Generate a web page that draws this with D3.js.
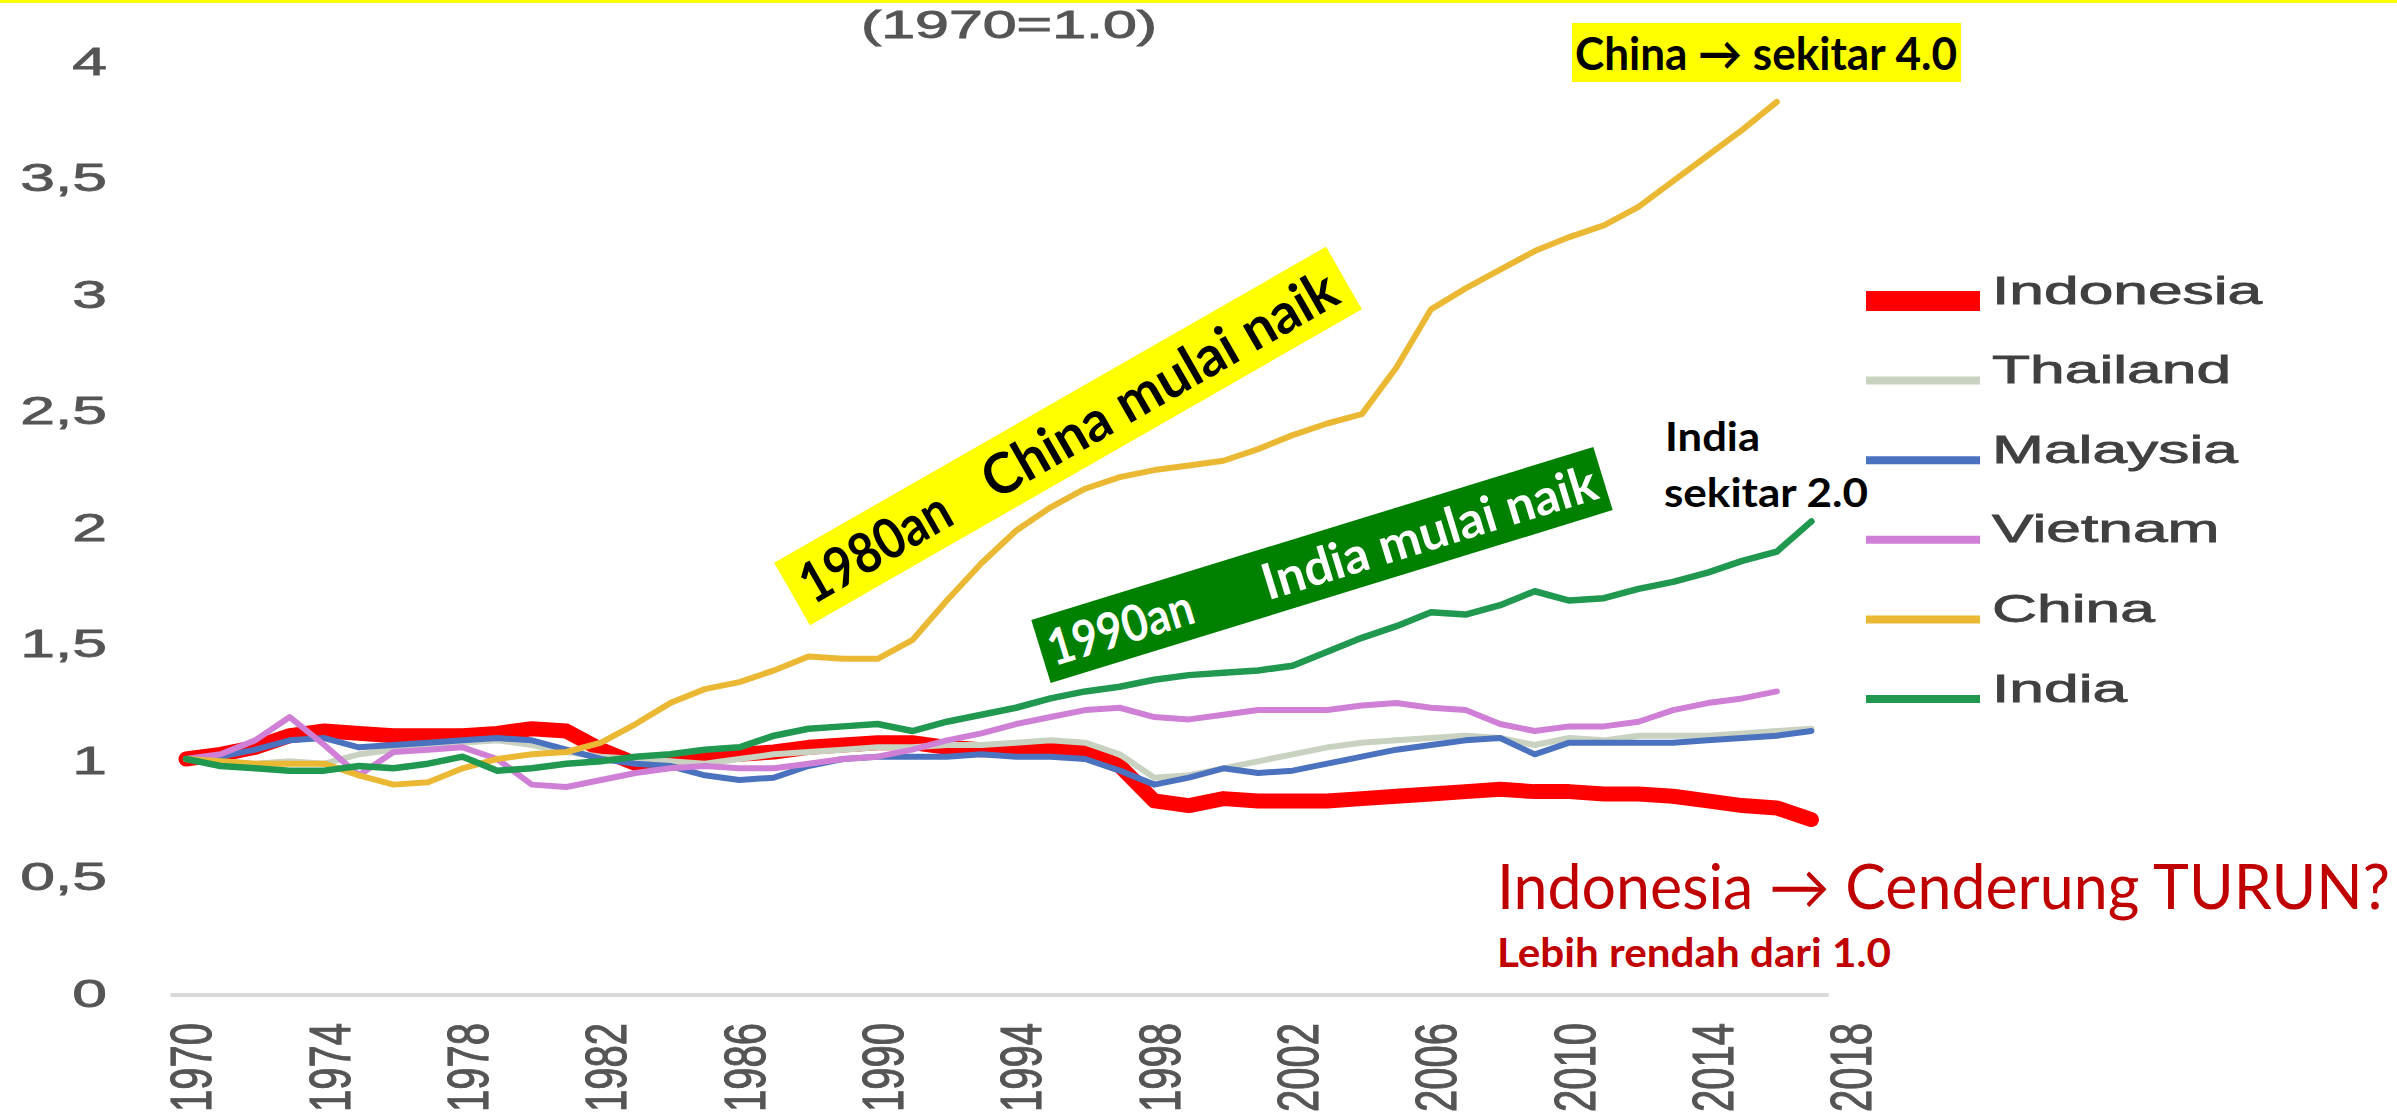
<!DOCTYPE html>
<html>
<head>
<meta charset="utf-8">
<script src="https://cdn.jsdelivr.net/npm/d3@7"></script>
<style>
  html, body { margin: 0; padding: 0; background: #fff; }
  svg { display: block; }
</style>
</head>
<body>
<div id="chart"></div>
<script>
// categories
const years = [1970, 1971, 1972, 1973, 1974, 1975, 1976, 1977, 1978, 1979,
               1980, 1981, 1982, 1983, 1984, 1985, 1986, 1987, 1988, 1989,
               1990, 1991, 1992, 1993, 1994, 1995, 1996, 1997, 1998, 1999,
               2000, 2001, 2002, 2003, 2004, 2005, 2006, 2007, 2008, 2009,
               2010, 2011, 2012, 2013, 2014, 2015, 2016, 2017];
const xTickYears = [1970, 1974, 1978, 1982, 1986, 1990, 1994, 1998, 2002, 2006, 2010, 2014, 2018];
const yTicks = [0, 0.5, 1, 1.5, 2, 2.5, 3, 3.5, 4];

// series (1970 = 1.0)
const indonesia = [1.00, 1.02, 1.05, 1.10, 1.12, 1.11, 1.10, 1.10, 1.10, 1.11,
                   1.13, 1.12, 1.04, 0.98, 0.99, 1.01, 1.02, 1.03, 1.05, 1.06,
                   1.07, 1.07, 1.05, 1.04, 1.04, 1.04, 1.03, 0.97, 0.82, 0.80,
                   0.83, 0.82, 0.82, 0.82, 0.83, 0.84, 0.85, 0.86, 0.87, 0.86,
                   0.86, 0.85, 0.85, 0.84, 0.82, 0.80, 0.79, 0.74];
const thailand = [1.00, 0.99, 0.98, 0.99, 0.98, 1.02, 1.04, 1.06, 1.07, 1.08,
                  1.06, 1.03, 1.01, 1.00, 0.99, 0.98, 1.00, 1.02, 1.03, 1.04,
                  1.05, 1.05, 1.06, 1.06, 1.07, 1.08, 1.07, 1.02, 0.92, 0.93,
                  0.96, 0.99, 1.02, 1.05, 1.07, 1.08, 1.09, 1.10, 1.09, 1.06,
                  1.09, 1.08, 1.10, 1.10, 1.10, 1.11, 1.12, 1.13];
const malaysia = [1.00, 1.01, 1.04, 1.08, 1.09, 1.05, 1.06, 1.07, 1.08, 1.09,
                  1.08, 1.04, 1.00, 0.98, 0.97, 0.93, 0.91, 0.92, 0.97, 1.00,
                  1.01, 1.01, 1.01, 1.02, 1.01, 1.01, 1.00, 0.95, 0.89, 0.92,
                  0.96, 0.94, 0.95, 0.98, 1.01, 1.04, 1.06, 1.08, 1.09, 1.02,
                  1.07, 1.07, 1.07, 1.07, 1.08, 1.09, 1.10, 1.12];
const vietnam = [1.00, 1.02, 1.08, 1.18, 1.06, 0.93, 1.03, 1.04, 1.05, 1.00,
                 0.89, 0.88, 0.91, 0.94, 0.96, 0.97, 0.96, 0.96, 0.98, 1.00,
                 1.01, 1.04, 1.08, 1.11, 1.15, 1.18, 1.21, 1.22, 1.18, 1.17,
                 1.19, 1.21, 1.21, 1.21, 1.23, 1.24, 1.22, 1.21, 1.15, 1.12,
                 1.14, 1.14, 1.16, 1.21, 1.24, 1.26, 1.29];
const china = [1.00, 0.99, 0.98, 0.98, 0.98, 0.93, 0.89, 0.90, 0.96, 1.00,
               1.02, 1.03, 1.07, 1.15, 1.24, 1.30, 1.33, 1.38, 1.44, 1.43,
               1.43, 1.51, 1.68, 1.84, 1.98, 2.08, 2.16, 2.21, 2.24, 2.26,
               2.28, 2.33, 2.39, 2.44, 2.48, 2.68, 2.93, 3.02, 3.10, 3.18,
               3.24, 3.29, 3.37, 3.48, 3.59, 3.70, 3.82];
const india = [1.00, 0.97, 0.96, 0.95, 0.95, 0.97, 0.96, 0.98, 1.01, 0.95,
               0.96, 0.98, 0.99, 1.01, 1.02, 1.04, 1.05, 1.10, 1.13, 1.14,
               1.15, 1.12, 1.16, 1.19, 1.22, 1.26, 1.29, 1.31, 1.34, 1.36,
               1.37, 1.38, 1.40, 1.46, 1.52, 1.57, 1.63, 1.62, 1.66, 1.72,
               1.68, 1.69, 1.73, 1.76, 1.80, 1.85, 1.89, 2.02];

const seriesNames = ["Indonesia", "Thailand", "Malaysia", "Vietnam", "China", "India"];
const seriesValues = [indonesia, thailand, malaysia, vietnam, china, india];

// styles
const seriesColors = ["#ff0000", "#c9d2c0", "#4a72bf", "#cf80d6", "#ebb834", "#20984f"];
const seriesWidths = [15, 6, 6, 6, 6, 6.5];
const legendWidths = [20, 8, 8, 8, 8, 8];
const axisFont = "'Liberation Sans', Arial, sans-serif";
const noteFont = "Lato, 'Liberation Sans', Arial, sans-serif";

const W = 2397, H = 1118;
const svg = d3.select("#chart").append("svg")
    .attr("width", W)
    .attr("height", H);

svg.append("rect").attr("width", W).attr("height", H).attr("fill", "#fff");
svg.append("rect").attr("width", W).attr("height", 3).attr("fill", "#ffff00"); // top border

const x = d3.scaleLinear().domain([1970, 2018]).range([186, 1846]);
const y = d3.scaleLinear().domain([0, 4]).range([992, 60]);

// title
svg.append("text")
    .attr("x", 861).attr("y", 38)
    .attr("textLength", 296).attr("lengthAdjust", "spacingAndGlyphs")
    .attr("font-family", axisFont).attr("font-size", 38)
    .attr("fill", "#555").attr("stroke", "#555").attr("stroke-width", 0.9)
    .text("(1970=1.0)");

// baseline
svg.append("line")
    .attr("x1", x(1969.55)).attr("x2", x(2017.5))
    .attr("y1", y(0) + 3).attr("y2", y(0) + 3)
    .attr("stroke", "#d9d9d9").attr("stroke-width", 4);

// y axis
const yAxis = svg.append("g")
    .call(d3.axisLeft(y).tickValues(yTicks).tickSize(0)
      .tickFormat(d => String(d).replace(".", ",")));
yAxis.select(".domain").remove();
yAxis.selectAll("text")
    .attr("x", 0).attr("dy", "0.36em")
    .attr("text-anchor", "end")
    .attr("transform", "translate(107,0) scale(1.6,1)")
    .attr("font-family", axisFont).attr("font-size", 39)
    .attr("fill", "#555").attr("stroke", "#555").attr("stroke-width", 0.8);

// x axis (rotated labels)
const xAxis = svg.append("g")
    .call(d3.axisBottom(x).tickValues(xTickYears).tickSize(0).tickFormat(d3.format("d")));
xAxis.select(".domain").remove();
xAxis.selectAll("text")
    .attr("x", 0).attr("y", 0).attr("dy", "0.36em")
    .attr("text-anchor", "end")
    .attr("transform", "translate(4,1023) scale(1.45,1) rotate(-90)")
    .attr("font-family", axisFont).attr("font-size", 40)
    .attr("fill", "#555").attr("stroke", "#555").attr("stroke-width", 0.8);

// lines
const line = d3.line()
    .x((d, i) => x(years[i]))
    .y(d => y(d));

seriesValues.forEach((vals, k) => {
  svg.append("path")
      .datum(vals)
      .attr("d", line)
      .attr("fill", "none")
      .attr("stroke", seriesColors[k])
      .attr("stroke-width", seriesWidths[k])
      .attr("stroke-linejoin", "round")
      .attr("stroke-linecap", "round");
});

// legend
const legend = svg.append("g");
seriesNames.forEach((name, k) => {
  const ly = 290 + k * 79.6;
  legend.append("line")
      .attr("x1", 1866).attr("x2", 1980)
      .attr("y1", ly + 11).attr("y2", ly + 11)
      .attr("stroke", seriesColors[k])
      .attr("stroke-width", legendWidths[k]);
  legend.append("text")
      .attr("x", 0).attr("y", 0).attr("dy", "0.36em")
      .attr("transform", `translate(1992,${ly}) scale(1.64,1)`)
      .attr("font-family", axisFont).attr("font-size", 38)
      .attr("fill", "#404040").attr("stroke", "#404040").attr("stroke-width", 0.8)
      .text(name);
});

// annotation: China box
svg.append("rect")
    .attr("x", 1572).attr("y", 23).attr("width", 389).attr("height", 59)
    .attr("fill", "#ffff00");
svg.append("text")
    .attr("x", 1575).attr("y", 70)
    .attr("textLength", 382).attr("lengthAdjust", "spacingAndGlyphs")
    .attr("font-family", noteFont).attr("font-weight", "bold").attr("font-size", 46)
    .attr("fill", "#000")
    .text("China \u2192 sekitar 4.0");

// annotation: yellow rotated banner
const b1 = svg.append("g").attr("transform", "translate(1068,436) rotate(-29.8)");
b1.append("rect").attr("x", -318).attr("y", -36).attr("width", 636).attr("height", 72)
    .attr("fill", "#ffff00");
b1.append("text")
    .attr("x", -305).attr("y", 20)
    .attr("textLength", 165).attr("lengthAdjust", "spacingAndGlyphs")
    .attr("font-family", noteFont).attr("font-weight", "bold").attr("font-size", 56)
    .attr("fill", "#000").text("1980an");
b1.append("text")
    .attr("x", -95).attr("y", 20)
    .attr("textLength", 400).attr("lengthAdjust", "spacingAndGlyphs")
    .attr("font-family", noteFont).attr("font-weight", "bold").attr("font-size", 56)
    .attr("fill", "#000").text("China mulai naik");

// annotation: green rotated banner
const b2 = svg.append("g").attr("transform", "translate(1322,565) rotate(-17.1)");
b2.append("rect").attr("x", -294).attr("y", -33).attr("width", 588).attr("height", 66)
    .attr("fill", "#008000");
b2.append("text")
    .attr("x", -286).attr("y", 18)
    .attr("textLength", 150).attr("lengthAdjust", "spacingAndGlyphs")
    .attr("font-family", noteFont).attr("font-weight", "bold").attr("font-size", 50)
    .attr("fill", "#fff").text("1990an");
b2.append("text")
    .attr("x", -62).attr("y", 18)
    .attr("textLength", 348).attr("lengthAdjust", "spacingAndGlyphs")
    .attr("font-family", noteFont).attr("font-weight", "bold").attr("font-size", 50)
    .attr("fill", "#fff").text("India mulai naik");

// annotation: India
svg.append("text")
    .attr("x", 1665).attr("y", 451)
    .attr("textLength", 95).attr("lengthAdjust", "spacingAndGlyphs")
    .attr("font-family", noteFont).attr("font-weight", "bold").attr("font-size", 40)
    .attr("fill", "#000").text("India");
svg.append("text")
    .attr("x", 1664).attr("y", 507)
    .attr("textLength", 204).attr("lengthAdjust", "spacingAndGlyphs")
    .attr("font-family", noteFont).attr("font-weight", "bold").attr("font-size", 40)
    .attr("fill", "#000").text("sekitar 2.0");

// annotation: Indonesia
svg.append("text")
    .attr("x", 1497).attr("y", 909)
    .attr("textLength", 893).attr("lengthAdjust", "spacingAndGlyphs")
    .attr("font-family", noteFont).attr("font-size", 62)
    .attr("fill", "#c00000").text("Indonesia \u2192 Cenderung TURUN?");
svg.append("text")
    .attr("x", 1497).attr("y", 967)
    .attr("textLength", 394).attr("lengthAdjust", "spacingAndGlyphs")
    .attr("font-family", noteFont).attr("font-weight", "bold").attr("font-size", 40)
    .attr("fill", "#c00000").text("Lebih rendah dari 1.0");
</script>
</body>
</html>
